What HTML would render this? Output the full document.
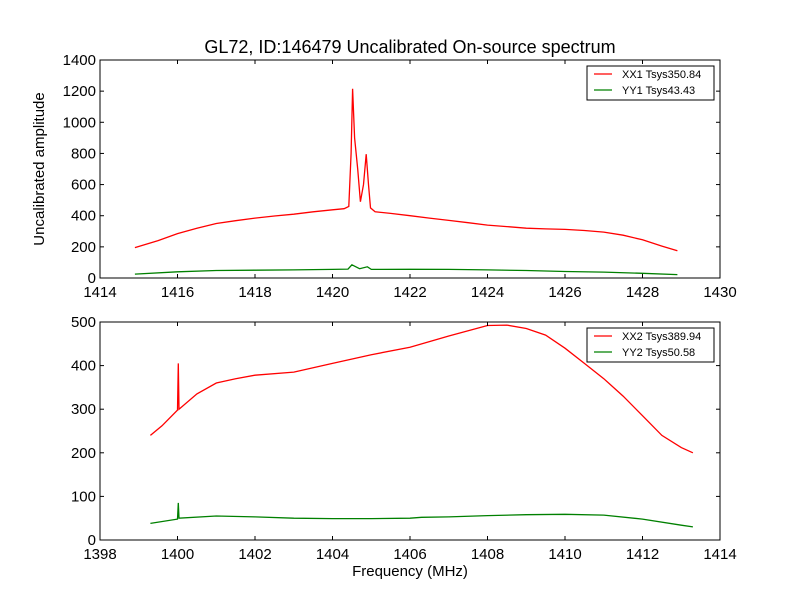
<!DOCTYPE html>
<html><head><meta charset="utf-8"><style>
body{margin:0;background:#fff;}
svg{display:block;font-family:"Liberation Sans",sans-serif;}
</style></head><body>
<svg id="chart" width="800" height="600" xmlns="http://www.w3.org/2000/svg">
<rect width="800" height="600" fill="#fff"/>
<text x="410" y="53" font-size="18" text-anchor="middle">GL72, ID:146479 Uncalibrated On-source spectrum</text>
<text transform="translate(44,169) rotate(-90)" font-size="15" text-anchor="middle">Uncalibrated amplitude</text>
<text x="410" y="576" font-size="15" text-anchor="middle">Frequency (MHz)</text>
<g id="top"></g><g id="bot"></g>
</svg>
<script>
const topXX1Freq=[1414.9,1415.5,1416,1416.5,1417,1417.5,1418,1418.5,1419,1419.5,1420,1420.3,1420.42,1420.48,1420.52,1420.57,1420.65,1420.72,1420.8,1420.87,1420.93,1420.98,1421.1,1421.5,1422,1422.5,1423,1423.5,1424,1424.5,1425,1425.5,1426,1426.5,1427,1427.5,1428,1428.5,1428.9];
const topXX1Amp=[195,240,285,320,350,368,385,398,410,425,438,445,460,800,1215,900,700,490,600,795,600,450,425,415,400,385,370,355,340,330,320,315,312,305,295,275,245,205,175];
const topYY1Freq=[1414.9,1416,1417,1418,1419,1420,1420.4,1420.5,1420.7,1420.9,1421,1422,1423,1424,1425,1426,1427,1428,1428.9];
const topYY1Amp=[25,40,48,50,52,55,57,85,60,72,55,56,55,52,48,42,38,30,22];
const botXX2Freq=[1399.3,1399.6,1400,1400.02,1400.04,1400.5,1401,1401.5,1402,1403,1404,1405,1406,1407,1408,1408.5,1409,1409.5,1410,1410.5,1411,1411.5,1412,1412.5,1413,1413.3];
const botXX2Amp=[240,262,298,405,300,335,360,370,378,385,405,425,442,468,492,493,485,470,440,405,370,330,285,240,212,200];
const botYY2Freq=[1399.3,1400,1400.02,1400.04,1401,1402,1403,1404,1405,1406,1406.3,1407,1408,1409,1410,1411,1412,1413,1413.3];
const botYY2Amp=[38,48,85,50,55,53,50,49,49,50,52,53,56,58,59,57,48,34,30];
const topXTicks=[1414,1416,1418,1420,1422,1424,1426,1428,1430];
const topYTicks=[0,200,400,600,800,1000,1200,1400];
const botXTicks=[1398,1400,1402,1404,1406,1408,1410,1412,1414];
const botYTicks=[0,100,200,300,400,500];
const topLegend=["XX1 Tsys350.84","YY1 Tsys43.43"];
const botLegend=["XX2 Tsys389.94","YY2 Tsys50.58"];
const NS="http://www.w3.org/2000/svg";
function mk(p,t,a){const e=document.createElementNS(NS,t);for(const k in a)e.setAttribute(k,a[k]);p.appendChild(e);return e;}
function panel(g,name,x0,x1,y0,y1,xmin,xmax,ymax,xt,yt,series,leg){
  const sx=v=>x0+(v-xmin)/(xmax-xmin)*(x1-x0);
  const sy=v=>y1-v/ymax*(y1-y0);
  series.forEach((s,i)=>{
    const pts=s.f.map((f,j)=>sx(f).toFixed(1)+","+sy(s.a[j]).toFixed(1)).join(" ");
    const l=mk(g,"polyline",{points:pts,fill:"none",stroke:s.c,"stroke-width":1.3});
    
    
  });
  const fr=mk(g,"rect",{x:x0,y:y0,width:x1-x0,height:y1-y0,fill:"none",stroke:"#000","stroke-width":1});
  
  
  xt.forEach(v=>{const x=sx(v);
    mk(g,"line",{x1:x,x2:x,y1:y1,y2:y1-4,stroke:"#000"});mk(g,"line",{x1:x,x2:x,y1:y0,y2:y0+4,stroke:"#000"});
    const t=mk(g,"text",{x:x,y:y1+19,"font-size":15,"text-anchor":"middle"});t.textContent=v;
    
    
  });
  yt.forEach(v=>{const y=sy(v);
    mk(g,"line",{x1:x0,x2:x0+4,y1:y,y2:y,stroke:"#000"});mk(g,"line",{x1:x1,x2:x1-4,y1:y,y2:y,stroke:"#000"});
    const t=mk(g,"text",{x:x0-4,y:y+5,"font-size":15,"text-anchor":"end"});t.textContent=v;
    
    
  });
  const lg=mk(g,"g",{});
  
  
  mk(lg,"rect",{x:587,y:y0+6,width:127,height:34,fill:"#fff",stroke:"#000"});
  leg.forEach((s,i)=>{const y=y0+14+i*16;
    mk(lg,"line",{x1:594,x2:612,y1:y,y2:y,stroke:series[i].c,"stroke-width":1.3});
    const t=mk(lg,"text",{x:622,y:y+4,"font-size":11});t.textContent=s;
    
    
  });
}
panel(document.getElementById("top"),"top",100,720,60,278,1414,1430,1400,topXTicks,topYTicks,
 [{f:topXX1Freq,a:topXX1Amp,c:"#ff0000",n:"xx1"},{f:topYY1Freq,a:topYY1Amp,c:"#008000",n:"yy1"}],topLegend);
panel(document.getElementById("bot"),"bottom",100,720,322,540,1398,1414,500,botXTicks,botYTicks,
 [{f:botXX2Freq,a:botXX2Amp,c:"#ff0000",n:"xx2"},{f:botYY2Freq,a:botYY2Amp,c:"#008000",n:"yy2"}],botLegend);
</script>
</body></html>
